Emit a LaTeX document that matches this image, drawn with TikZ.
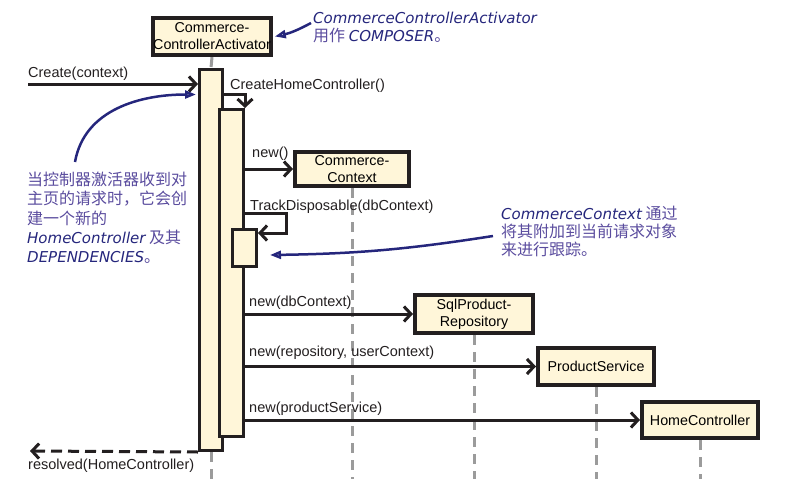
\documentclass[tikz,border=0pt]{standalone}
\usepackage{fontspec}
\setmainfont{Liberation Sans}
\newfontfamily\cjk{Noto Sans CJK SC}
\newfontfamily\hand{DejaVu Sans}
\definecolor{ink}{HTML}{231F20}
\definecolor{cream}{HTML}{FFF6D9}
\definecolor{lifec}{HTML}{9B9B9B}
\definecolor{navy}{HTML}{25267C}
\definecolor{lilac}{HTML}{5A4C9E}
\usetikzlibrary{arrows.meta,positioning,calc,backgrounds}
\newcommand{\hw}[1]{{\hand\itshape\color{navy}\fontsize{15}{19}\selectfont #1}}
\tikzset{
  >={Straight Barb[length=7pt,width=15pt]},
  obj/.style={draw=ink,fill=cream,line width=4pt,inner sep=0pt,align=center,font=\fontsize{14.3}{17}\selectfont},
  bar/.style={draw=ink,fill=cream,line width=3pt,inner sep=0pt},
  msg/.style={->,draw=ink,line width=3pt},
  ret/.style={msg,dash pattern=on 11pt off 6pt},
  lline/.style={draw=lifec,line width=3pt,dash pattern=on 10pt off 7pt},
  lab/.style={anchor=base west,inner sep=0pt,font=\fontsize{14.5}{16}\selectfont,text=ink},
  note/.style={anchor=north west,inner sep=0pt,align=left,text=lilac,font=\cjk\fontsize{16}{18}\selectfont},
  narr/.style={-{Triangle[open,length=11pt,width=8pt]},draw=navy,line width=2.5pt},
}
\begin{document}
\begin{tikzpicture}[x=1pt,y=-1pt]
\useasboundingbox (0,0) rectangle (788,498);
\node[obj,minimum width=116pt,minimum height=37pt] (act) at (212,36.5) {Commerce-\\ControllerActivator};
\node[bar,minimum width=23pt,minimum height=381pt] (ob) at (211,260) {};
\node[bar,minimum width=24pt,minimum height=327pt] (ib) at (231.5,273) {};
\node[bar,minimum width=24pt,minimum height=37pt] (tb) at (244.5,248) {};
\node[obj,minimum width=114pt,minimum height=34pt] (cc) at (352,169) {Commerce-\\Context};
\node[obj,minimum width=118pt,minimum height=38pt] (sr) at (474,314) {SqlProduct-\\Repository};
\node[obj,minimum width=116pt,minimum height=37pt] (ps) at (596,366.5) {ProductService};
\node[obj,minimum width=116pt,minimum height=36pt] (hc) at (700,420) {HomeController};
\coordinate (bot) at (0,479);
\coordinate (in) at (28,84);
\coordinate (out) at (30,451);
\coordinate (tk) at (286,213);
\begin{scope}[on background layer]
\draw[lline] (act.south) -- (ob.north);
\draw[lline] (ob.south) -- (ob.south |- bot);
\draw[lline] (cc.south) -- (cc.south |- bot);
\draw[lline] (sr.south) -- (sr.south |- bot);
\draw[lline] (ps.south) -- (ps.south |- bot);
\draw[lline] (hc.south) -- (hc.south |- bot);
\end{scope}
\draw[msg] (in) -- (in -| ob.west);
\draw[msg] ([yshift=-26pt]ob.north east) -| (ib.north east);
\draw[msg] (ib.east |- cc.west) -- (cc.west);
\draw[msg] (ib.east |- tk) -- (tk) |- ([yshift=15pt]tb.east);
\draw[msg] (ib.east |- sr.west) -- (sr.west);
\draw[msg] (ib.east |- ps.west) -- (ps.west);
\draw[msg] (ib.east |- hc.west) -- (hc.west);
\draw[ret] (ob.south west) -- (out);
\node[lab] (l1) at (28,77) {Create(context)};
\node[lab] (l2) at (230,89) {CreateHomeController()};
\node[lab] (l3) at (252,157) {new()};
\node[lab] (l4) at (250,210) {TrackDisposable(dbContext)};
\node[lab] (l5) at (249,306.5) {new(dbContext)};
\node[lab] (l6) at (249,356.5) {new(repository, userContext)};
\node[lab] (l7) at (249,412.5) {new(productService)};
\node[lab] (l8) at (28,469) {resolved(HomeController)};
\node[note] (n1) at (313,12) {\hw{CommerceControllerActivator}\\用作 \hw{COMPOSER}。};
\node[note,font=\cjk\fontsize{16}{19.3}\selectfont] (n2) at (27,172) {当控制器激活器收到对\\主页的请求时，它会创\\建一个新的\\\hw{HomeController} 及其\\\hw{DEPENDENCIES}。};
\node[note] (n3) at (501,206) {\hw{CommerceContext} 通过\\将其附加到当前请求对象\\来进行跟踪。};
\draw[narr] ([xshift=-2pt,yshift=-11pt]n1.north west) to[bend left=8] ([xshift=2pt]act.east);
\draw[narr] ([xshift=48pt,yshift=10pt]n2.north west) to[out=80,in=180] ([xshift=-2pt,yshift=-26.5pt]ob.north west);
\draw[narr] ([xshift=-8pt,yshift=-30pt]n3.north west) to[bend left=4] ([xshift=12pt,yshift=-7pt]tb.east);
\end{tikzpicture}
\end{document}
